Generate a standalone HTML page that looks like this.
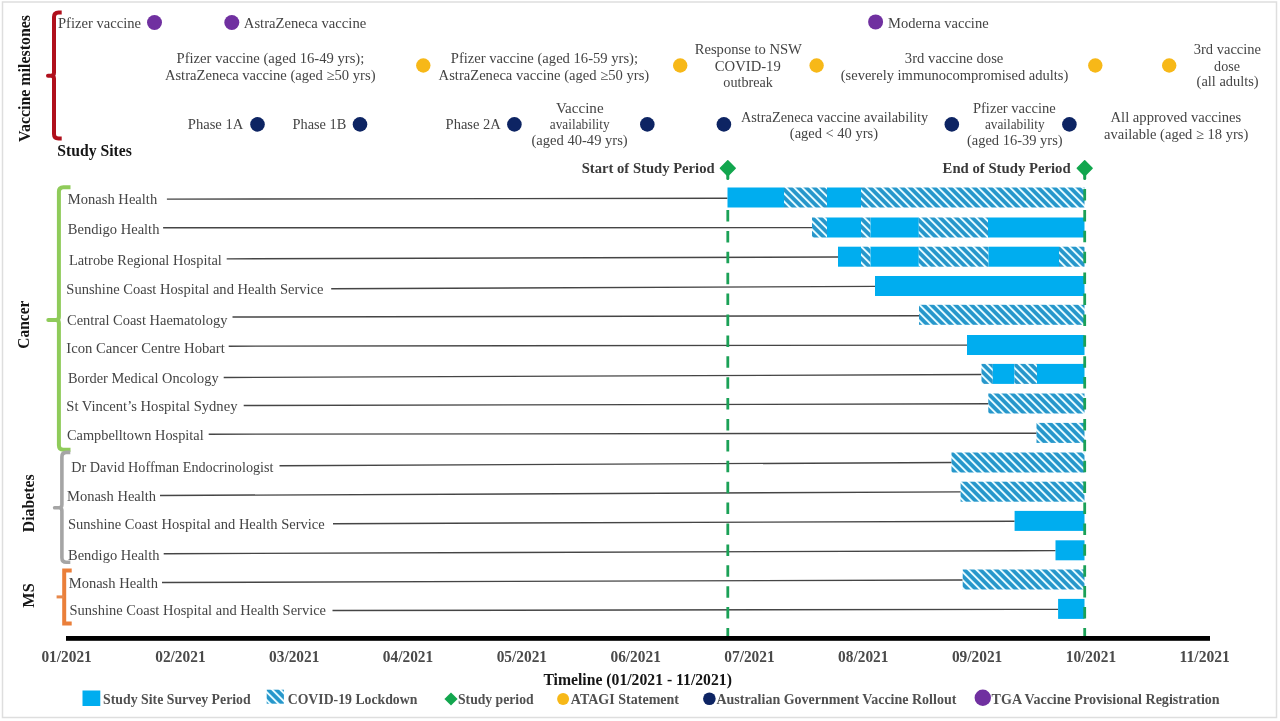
<!DOCTYPE html>
<html><head><meta charset="utf-8"><style>
html,body{margin:0;padding:0;background:#fff;width:1280px;height:721px;overflow:hidden}
svg{display:block;will-change:transform}
text{font-family:"Liberation Serif",serif}
.r{font-size:14.6px;fill:#3f3f3f}
.b{font-weight:bold}
</style></head><body>
<svg width="1280" height="721" viewBox="0 0 1280 721">
<defs>
<pattern id="hp" patternUnits="userSpaceOnUse" width="5.657" height="5.657" patternTransform="rotate(45)">
<rect width="5.657" height="5.657" fill="#2697cb"/>
<rect x="0" y="0" width="5.657" height="1.9" fill="#e4faff"/>
</pattern>
</defs>
<rect x="0" y="0" width="1280" height="721" fill="#fff"/>
<rect x="2.5" y="2" width="1274" height="715.5" fill="none" stroke="#dedede" stroke-width="1.5"/>

<g fill="none" stroke-linecap="butt" stroke-linejoin="round">
<path d="M61.7,12.4 L58.5,12.4 Q54,12.4 54,16.9 L54,72.8 Q54,75.8 51,75.8 L48,75.8 L51,75.8 Q54,75.8 54,78.8 L54,134.1 Q54,138.6 58.5,138.6 L61.7,138.6" stroke="#b0101c" stroke-width="4"/>
<path d="M70.5,187.3 L63.4,187.3 Q58.9,187.3 58.9,191.8 L58.9,317 Q58.9,320 55.9,320 L48.3,320 L55.9,320 Q58.9,320 58.9,323 L58.9,445.3 Q58.9,449.8 63.4,449.8 L70.5,449.8" stroke="#8fcb5a" stroke-width="4"/>
<path d="M70.3,452.4 L66.4,452.4 Q61.9,452.4 61.9,456.9 L61.9,504.8 Q61.9,507.8 58.9,507.8 L54.6,507.8 L58.9,507.8 Q61.9,507.8 61.9,510.8 L61.9,557.8 Q61.9,562.3 66.4,562.3 L70.3,562.3" stroke="#a5a5a5" stroke-width="3.6"/>
<path d="M71.7,570.4 L64.2,570.4 L64.2,623.6 L71.7,623.6" stroke="#ea7f3a" stroke-width="4" stroke-linejoin="miter"/>
<path d="M56.6,596.9 L64,596.9" stroke="#e8884a" stroke-width="3"/>
</g>
<line x1="166.9" y1="199.1" x2="727.5" y2="198.3" stroke="#454545" stroke-width="1.4"/>
<line x1="163.1" y1="227.8" x2="812" y2="227.66000000000003" stroke="#454545" stroke-width="1.4"/>
<line x1="226.7" y1="258.9" x2="838" y2="257.02" stroke="#454545" stroke-width="1.4"/>
<line x1="331.2" y1="288.7" x2="875" y2="286.38" stroke="#454545" stroke-width="1.4"/>
<line x1="232.5" y1="317" x2="919" y2="315.74" stroke="#454545" stroke-width="1.4"/>
<line x1="228.7" y1="346.2" x2="967" y2="345.1" stroke="#454545" stroke-width="1.4"/>
<line x1="223.7" y1="377.5" x2="981.5" y2="374.46000000000004" stroke="#454545" stroke-width="1.4"/>
<line x1="243.7" y1="405.5" x2="988.3" y2="403.82" stroke="#454545" stroke-width="1.4"/>
<line x1="208.7" y1="434.2" x2="1036.5" y2="433.18" stroke="#454545" stroke-width="1.4"/>
<line x1="279.5" y1="465.7" x2="951.5" y2="462.54" stroke="#454545" stroke-width="1.4"/>
<line x1="160" y1="495.5" x2="960.6" y2="491.90000000000003" stroke="#454545" stroke-width="1.4"/>
<line x1="333" y1="523.7" x2="1014.6" y2="521.26" stroke="#454545" stroke-width="1.4"/>
<line x1="163.7" y1="553.7" x2="1055.5" y2="550.62" stroke="#454545" stroke-width="1.4"/>
<line x1="162" y1="582.5" x2="962.7" y2="579.98" stroke="#454545" stroke-width="1.4"/>
<line x1="332.5" y1="610.5" x2="1058.1" y2="609.3399999999999" stroke="#454545" stroke-width="1.4"/>
<rect x="727.5" y="187.50" width="56.50" height="20" fill="#00adef"/>
<rect x="784" y="187.50" width="43.00" height="20" fill="url(#hp)"/>
<rect x="827" y="187.50" width="34.00" height="20" fill="#00adef"/>
<rect x="861" y="187.50" width="223.50" height="20" fill="url(#hp)"/>
<rect x="812" y="217.50" width="15.00" height="20" fill="url(#hp)"/>
<rect x="827" y="217.50" width="34.00" height="20" fill="#00adef"/>
<rect x="861" y="217.50" width="9.50" height="20" fill="url(#hp)"/>
<rect x="870.5" y="217.50" width="48.30" height="20" fill="#00adef"/>
<rect x="918.8" y="217.50" width="69.20" height="20" fill="url(#hp)"/>
<rect x="988" y="217.50" width="96.50" height="20" fill="#00adef"/>
<rect x="838" y="246.70" width="23.00" height="20" fill="#00adef"/>
<rect x="861" y="246.70" width="9.50" height="20" fill="url(#hp)"/>
<rect x="870.5" y="246.70" width="48.30" height="20" fill="#00adef"/>
<rect x="918.8" y="246.70" width="69.70" height="20" fill="url(#hp)"/>
<rect x="988.5" y="246.70" width="70.50" height="20" fill="#00adef"/>
<rect x="1059" y="246.70" width="25.50" height="20" fill="url(#hp)"/>
<rect x="875" y="276.00" width="209.50" height="20" fill="#00adef"/>
<rect x="919" y="304.80" width="165.50" height="20" fill="url(#hp)"/>
<rect x="967" y="335.00" width="117.50" height="20" fill="#00adef"/>
<rect x="981.5" y="363.90" width="11.30" height="20" fill="url(#hp)"/>
<rect x="992.8" y="363.90" width="21.70" height="20" fill="#00adef"/>
<rect x="1014.5" y="363.90" width="22.50" height="20" fill="url(#hp)"/>
<rect x="1037" y="363.90" width="47.50" height="20" fill="#00adef"/>
<rect x="988.3" y="393.50" width="96.20" height="20" fill="url(#hp)"/>
<rect x="1036.5" y="422.90" width="48.00" height="20" fill="url(#hp)"/>
<rect x="951.5" y="452.50" width="133.00" height="20" fill="url(#hp)"/>
<rect x="960.6" y="481.70" width="123.90" height="20" fill="url(#hp)"/>
<rect x="1014.6" y="510.90" width="69.90" height="20" fill="#00adef"/>
<rect x="1055.5" y="540.30" width="29.00" height="20" fill="#00adef"/>
<rect x="962.7" y="569.50" width="121.80" height="20" fill="url(#hp)"/>
<rect x="1058.1" y="598.90" width="26.40" height="20" fill="#00adef"/>
<text transform="translate(67.80,203.7) scale(0.9977,1)" font-size="14.6" fill="#444444" text-anchor="start">Monash Health</text>
<text transform="translate(67.80,233.6) scale(0.9962,1)" font-size="14.6" fill="#444444" text-anchor="start">Bendigo Health</text>
<text transform="translate(68.90,265.2) scale(0.9886,1)" font-size="14.6" fill="#444444" text-anchor="start">Latrobe Regional Hospital</text>
<text transform="translate(66.30,294.2) scale(0.9969,1)" font-size="14.6" fill="#444444" text-anchor="start">Sunshine Coast Hospital and Health Service</text>
<text transform="translate(67.00,324.5) scale(0.9897,1)" font-size="14.6" fill="#444444" text-anchor="start">Central Coast Haematology</text>
<text transform="translate(66.30,352.5) scale(1.0065,1)" font-size="14.6" fill="#444444" text-anchor="start">Icon Cancer Centre Hobart</text>
<text transform="translate(68.00,383) scale(0.9833,1)" font-size="14.6" fill="#444444" text-anchor="start">Border Medical Oncology</text>
<text transform="translate(66.30,410.7)" font-size="14.6" fill="#444444" text-anchor="start">St Vincent’s Hospital Sydney</text>
<text transform="translate(67.00,440) scale(0.9827,1)" font-size="14.6" fill="#444444" text-anchor="start">Campbelltown Hospital</text>
<text transform="translate(71.20,471.7) scale(0.9747,1)" font-size="14.6" fill="#444444" text-anchor="start">Dr David Hoffman Endocrinologist</text>
<text transform="translate(67.00,501.2) scale(0.9955,1)" font-size="14.6" fill="#444444" text-anchor="start">Monash Health</text>
<text transform="translate(68.00,529.2) scale(0.9949,1)" font-size="14.6" fill="#444444" text-anchor="start">Sunshine Coast Hospital and Health Service</text>
<text transform="translate(68.00,559.5) scale(0.9940,1)" font-size="14.6" fill="#444444" text-anchor="start">Bendigo Health</text>
<text transform="translate(68.70,588) scale(0.9966,1)" font-size="14.6" fill="#444444" text-anchor="start">Monash Health</text>
<text transform="translate(69.50,615) scale(0.9938,1)" font-size="14.6" fill="#444444" text-anchor="start">Sunshine Coast Hospital and Health Service</text>
<line x1="727.8" y1="210" x2="727.8" y2="639" stroke="#1ba157" stroke-width="2.8" stroke-dasharray="11.5 9.4" stroke-dashoffset="0"/>
<line x1="727.8" y1="172" x2="727.8" y2="178.5" stroke="#16a050" stroke-width="3" stroke-linecap="round"/>
<path d="M727.8,160.8 L735.1999999999999,168.2 L727.8,175.6 L720.4,168.2 Z" fill="#12a64e" stroke="#12a64e" stroke-width="1.5" stroke-linejoin="round"/>
<line x1="1084.7" y1="189" x2="1084.7" y2="639" stroke="#1ba157" stroke-width="2.8" stroke-dasharray="11.5 9.4" stroke-dashoffset="0"/>
<line x1="1084.7" y1="172" x2="1084.7" y2="178.5" stroke="#16a050" stroke-width="3" stroke-linecap="round"/>
<path d="M1084.7,160.8 L1092.1000000000001,168.2 L1084.7,175.6 L1077.3,168.2 Z" fill="#12a64e" stroke="#12a64e" stroke-width="1.5" stroke-linejoin="round"/>
<text transform="translate(581.70,173.3) scale(1.0030,1)" font-size="14.6" fill="#3a3a3a" text-anchor="start" font-weight="bold">Start of Study Period</text>
<text transform="translate(942.60,173.3) scale(1.0096,1)" font-size="14.6" fill="#3a3a3a" text-anchor="start" font-weight="bold">End of Study Period</text>
<rect x="66" y="636" width="1144" height="4.8" fill="#000"/>
<text transform="translate(66.60,661.7) scale(0.9492,1)" font-size="16.2" fill="#4a4a4a" text-anchor="middle" font-weight="bold">01/2021</text>
<text transform="translate(180.41,661.7) scale(0.9492,1)" font-size="16.2" fill="#4a4a4a" text-anchor="middle" font-weight="bold">02/2021</text>
<text transform="translate(294.22,661.7) scale(0.9492,1)" font-size="16.2" fill="#4a4a4a" text-anchor="middle" font-weight="bold">03/2021</text>
<text transform="translate(408.03,661.7) scale(0.9492,1)" font-size="16.2" fill="#4a4a4a" text-anchor="middle" font-weight="bold">04/2021</text>
<text transform="translate(521.84,661.7) scale(0.9492,1)" font-size="16.2" fill="#4a4a4a" text-anchor="middle" font-weight="bold">05/2021</text>
<text transform="translate(635.65,661.7) scale(0.9492,1)" font-size="16.2" fill="#4a4a4a" text-anchor="middle" font-weight="bold">06/2021</text>
<text transform="translate(749.46,661.7) scale(0.9492,1)" font-size="16.2" fill="#4a4a4a" text-anchor="middle" font-weight="bold">07/2021</text>
<text transform="translate(863.27,661.7) scale(0.9492,1)" font-size="16.2" fill="#4a4a4a" text-anchor="middle" font-weight="bold">08/2021</text>
<text transform="translate(977.08,661.7) scale(0.9492,1)" font-size="16.2" fill="#4a4a4a" text-anchor="middle" font-weight="bold">09/2021</text>
<text transform="translate(1090.89,661.7) scale(0.9492,1)" font-size="16.2" fill="#4a4a4a" text-anchor="middle" font-weight="bold">10/2021</text>
<text transform="translate(1204.70,661.7) scale(0.9654,1)" font-size="16.2" fill="#4a4a4a" text-anchor="middle" font-weight="bold">11/2021</text>
<text transform="translate(543.40,684.8) scale(0.9815,1)" font-size="16" fill="#151515" text-anchor="start" font-weight="bold">Timeline (01/2021 - 11/2021)</text>
<text transform="translate(29.8,78.5) rotate(-90) translate(-0.00,0) scale(0.9934,1)" font-size="16" fill="#151515" text-anchor="middle" font-weight="bold">Vaccine milestones</text>
<text transform="translate(29.4,324.7) rotate(-90) translate(-0.00,0) scale(0.9686,1)" font-size="16" fill="#151515" text-anchor="middle" font-weight="bold">Cancer</text>
<text transform="translate(34,503.3) rotate(-90) translate(0.01,0) scale(0.9857,1)" font-size="16" fill="#151515" text-anchor="middle" font-weight="bold">Diabetes</text>
<text transform="translate(34,595.5) rotate(-90) translate(0.00,0) scale(1.0208,1)" font-size="16" fill="#151515" text-anchor="middle" font-weight="bold">MS</text>
<text transform="translate(57.30,155.8)" font-size="15.7" fill="#151515" text-anchor="start" font-weight="bold">Study Sites</text>
<circle cx="154.5" cy="22.5" r="7.5" fill="#7030a0"/>
<circle cx="231.8" cy="22.5" r="7.5" fill="#7030a0"/>
<circle cx="875.6" cy="21.9" r="7.5" fill="#7030a0"/>
<text transform="translate(58.00,28)" font-size="14.6" fill="#444444" text-anchor="start">Pfizer vaccine</text>
<text transform="translate(243.80,28) scale(1.0042,1)" font-size="14.6" fill="#444444" text-anchor="start">AstraZeneca vaccine</text>
<text transform="translate(888.10,27.5) scale(0.9968,1)" font-size="14.6" fill="#444444" text-anchor="start">Moderna vaccine</text>
<circle cx="423.3" cy="65.5" r="7.2" fill="#f7b818"/>
<circle cx="680.2" cy="65.5" r="7.2" fill="#f7b818"/>
<circle cx="816.6" cy="65.5" r="7.2" fill="#f7b818"/>
<circle cx="1095.3" cy="65.5" r="7.2" fill="#f7b818"/>
<circle cx="1169.2" cy="65.5" r="7.2" fill="#f7b818"/>
<text transform="translate(270.40,62.8) scale(1.0038,1)" font-size="14.6" fill="#444444" text-anchor="middle">Pfizer vaccine (aged 16-49 yrs);</text>
<text transform="translate(270.20,79.7)" font-size="14.6" fill="#444444" text-anchor="middle">AstraZeneca vaccine (aged ≥50 yrs)</text>
<text transform="translate(544.40,62.7)" font-size="14.6" fill="#444444" text-anchor="middle">Pfizer vaccine (aged 16-59 yrs);</text>
<text transform="translate(543.90,80.2)" font-size="14.6" fill="#444444" text-anchor="middle">AstraZeneca vaccine (aged ≥50 yrs)</text>
<text transform="translate(748.30,53.75) scale(1.0023,1)" font-size="14.6" fill="#444444" text-anchor="middle">Response to NSW</text>
<text transform="translate(747.80,71.1) scale(1.0046,1)" font-size="14.6" fill="#444444" text-anchor="middle">COVID-19</text>
<text transform="translate(748.11,86.5) scale(0.9713,1)" font-size="14.6" fill="#444444" text-anchor="middle">outbreak</text>
<text transform="translate(954.10,63.4) scale(1.0050,1)" font-size="14.6" fill="#444444" text-anchor="middle">3rd vaccine dose</text>
<text transform="translate(954.51,79.7) scale(0.9962,1)" font-size="14.6" fill="#444444" text-anchor="middle">(severely immunocompromised adults)</text>
<text transform="translate(1227.39,54) scale(0.9955,1)" font-size="14.6" fill="#444444" text-anchor="middle">3rd vaccine</text>
<text transform="translate(1227.00,70.8) scale(0.9643,1)" font-size="14.6" fill="#444444" text-anchor="middle">dose</text>
<text transform="translate(1227.60,86.2) scale(0.9864,1)" font-size="14.6" fill="#444444" text-anchor="middle">(all adults)</text>
<circle cx="257.5" cy="124.4" r="7.3" fill="#0d2463"/>
<circle cx="360" cy="124.4" r="7.3" fill="#0d2463"/>
<circle cx="514.4" cy="124.4" r="7.3" fill="#0d2463"/>
<circle cx="647.3" cy="124.4" r="7.3" fill="#0d2463"/>
<circle cx="723.9" cy="124.4" r="7.3" fill="#0d2463"/>
<circle cx="951.8" cy="124.4" r="7.3" fill="#0d2463"/>
<circle cx="1069.4" cy="124.4" r="7.3" fill="#0d2463"/>
<text transform="translate(187.80,129.1)" font-size="14.6" fill="#444444" text-anchor="start">Phase 1A</text>
<text transform="translate(292.50,129.1) scale(0.9845,1)" font-size="14.6" fill="#444444" text-anchor="start">Phase 1B</text>
<text transform="translate(445.60,129.1) scale(0.9954,1)" font-size="14.6" fill="#444444" text-anchor="start">Phase 2A</text>
<text transform="translate(579.75,112.6) scale(1.0323,1)" font-size="14.6" fill="#444444" text-anchor="middle">Vaccine</text>
<text transform="translate(579.71,129.4) scale(0.9122,1)" font-size="14.6" fill="#444444" text-anchor="middle">availability</text>
<text transform="translate(579.59,145.3) scale(0.9979,1)" font-size="14.6" fill="#444444" text-anchor="middle">(aged 40-49 yrs)</text>
<text transform="translate(834.60,121.9) scale(0.9800,1)" font-size="14.6" fill="#444444" text-anchor="middle">AstraZeneca vaccine availability</text>
<text transform="translate(833.90,138.3) scale(0.9931,1)" font-size="14.6" fill="#444444" text-anchor="middle">(aged &lt; 40 yrs)</text>
<text transform="translate(1014.36,112.6) scale(0.9979,1)" font-size="14.6" fill="#444444" text-anchor="middle">Pfizer vaccine</text>
<text transform="translate(1014.76,129.4) scale(0.9092,1)" font-size="14.6" fill="#444444" text-anchor="middle">availability</text>
<text transform="translate(1014.79,145.3) scale(0.9927,1)" font-size="14.6" fill="#444444" text-anchor="middle">(aged 16-39 yrs)</text>
<text transform="translate(1175.91,121.6) scale(1.0021,1)" font-size="14.6" fill="#444444" text-anchor="middle">All approved vaccines</text>
<text transform="translate(1176.19,138.7) scale(0.9955,1)" font-size="14.6" fill="#444444" text-anchor="middle">available (aged ≥ 18 yrs)</text>
<rect x="82.5" y="690.5" width="17.8" height="15.5" fill="#00adef"/>
<text transform="translate(103.10,703.5) scale(0.9871,1)" font-size="14" fill="#505050" text-anchor="start" font-weight="bold">Study Site Survey Period</text>
<rect x="266.7" y="689.7" width="17.2" height="14" fill="url(#hp)"/>
<text transform="translate(287.70,703.5) scale(0.9845,1)" font-size="14" fill="#505050" text-anchor="start" font-weight="bold">COVID-19 Lockdown</text>
<path d="M451,692.4 L457.6,699 L451,705.6 L444.4,699 Z" fill="#12a64e"/>
<text transform="translate(458.00,703.5) scale(0.9778,1)" font-size="14" fill="#505050" text-anchor="start" font-weight="bold">Study period</text>
<circle cx="563.1" cy="699" r="6" fill="#f7b818"/>
<text transform="translate(570.80,703.5) scale(1.0030,1)" font-size="14" fill="#505050" text-anchor="start" font-weight="bold">ATAGI Statement</text>
<circle cx="709.4" cy="698.7" r="6.3" fill="#0d2463"/>
<text transform="translate(716.40,703.5)" font-size="14" fill="#505050" text-anchor="start" font-weight="bold">Australian Government Vaccine Rollout</text>
<circle cx="982.8" cy="697.7" r="8.2" fill="#7030a0"/>
<text transform="translate(991.60,703.5) scale(1.0046,1)" font-size="14" fill="#505050" text-anchor="start" font-weight="bold">TGA Vaccine Provisional Registration</text>
</svg></body></html>
